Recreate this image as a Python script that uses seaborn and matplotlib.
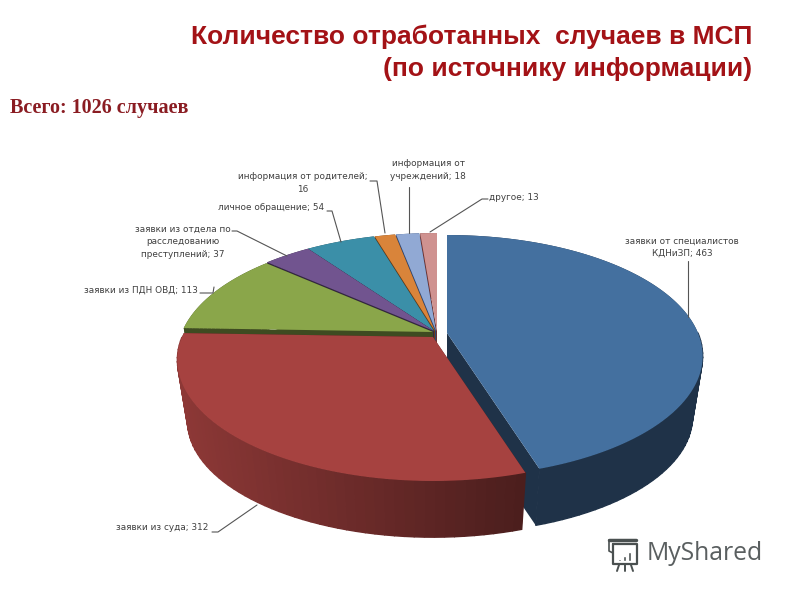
import colorsys

import numpy as np
import matplotlib
matplotlib.use("Agg")
import matplotlib.pyplot as plt
import seaborn as sns

# Data, clockwise from 12 o'clock
cases = [463, 312, 113, 37, 54, 16, 18, 13]
labels = [
    "заявки от специалистов\nКДНиЗП; 463",
    "заявки из суда; 312",
    "заявки из ПДН ОВД; 113",
    "заявки из отдела по\nрасследованию\nпреступлений; 37",
    "личное обращение; 54",
    "информация от родителей;\n16",
    "информация от\nучреждений; 18",
    "другое; 13",
]
colors = ["#44709f", "#a64240", "#8aa64a", "#71548f", "#3b8fa8", "#d9843a", "#91a9d4", "#cf9290"]

# Layout of the fake 3D pie, in pixels
apex = [(447, 333), (433, 337), (433, 332), (434, 331), (434, 331), (435, 331), (436, 331), (437, 331)]
draw_order = [7, 6, 5, 4, 3, 2, 0, 1]
RX, RY, PERSP = 251, 116.6, 0.19
DEPTH, SHRINK = 62, 0.96

label_pos = [(682, 247), (162, 528), (141, 290), (183, 242), (271, 208), (303, 183), (428, 170), (514, 198)]
leaders = [
    [(688, 261), (688, 317)],
    [(212, 532), (218, 532), (257, 505)],
    [(200, 293), (213, 293), (214, 287)],
    [(232, 231), (237, 231), (287, 256)],
    [(327, 211), (332, 211), (341, 242)],
    [(370, 181), (377, 181), (385, 233)],
    [(409, 187), (409, 233)],
    [(488, 199), (482, 199), (430, 232)],
]

sns.set_theme(style="white")
plt.rcParams["font.family"] = ["DejaVu Sans"]


def project(theta, r, center, lower=False):
    # theta runs clockwise from the top, r is 0..1 on the disc
    u, v = r * np.sin(theta), r * np.cos(theta)
    w = 1 + PERSP * v
    x, y = RX * u / w, -RY * v / w
    if lower:
        return center[0] + x * SHRINK, center[1] + y * SHRINK + DEPTH
    return center[0] + x, center[1] + y


def wall_color(color, x):
    # walls get darker towards the right
    _, l, _ = colorsys.rgb_to_hls(*matplotlib.colors.to_rgb(color))
    f = 0.85 - 0.4 * np.clip((x - 176) / 350, 0, 1)
    return sns.set_hls_values(color, l=l * f)


fig, ax = plt.subplots(figsize=(8, 6), dpi=100)
ax.set_xlim(0, 800)
ax.set_ylim(600, 0)
ax.axis("off")
fig.subplots_adjust(0, 0, 1, 1)

edges = np.cumsum([0] + cases) / sum(cases) * 2 * np.pi

for i in draw_order:
    start, end = edges[i], edges[i + 1]
    c = apex[i]
    col = colors[i]
    n = max(int((end - start) * 30), 3)
    th = np.linspace(start, end, n + 1)

    # cut faces first, then the outer wall in small strips for the shading
    for t in (start, end):
        xt, yt = project(t, 1, c)
        xb, yb = project(t, 1, c, lower=True)
        xa, ya = project(t, 0, c, lower=True)
        ax.fill([c[0], xt, xb, xa], [c[1], yt, yb, ya], color=wall_color(col, 600), lw=0, zorder=1)
    for a, b in zip(th[:-1], th[1:]):
        x1, y1 = project(a, 1, c)
        x2, y2 = project(b, 1, c)
        x3, y3 = project(b, 1, c, lower=True)
        x4, y4 = project(a, 1, c, lower=True)
        # back side of the rim only shows in the gaps, keep it dark
        back = np.cos((a + b) / 2) > 0
        shade_x = 600 if back else (x1 + x2) / 2
        ax.fill([x1, x2, x3, x4], [y1, y2, y3, y4], color=wall_color(col, shade_x), lw=0 if back else 1.0, zorder=1)

    fine = np.linspace(start, end, 120)
    tx, ty = project(fine, 1, c)
    ax.fill(np.r_[c[0], tx], np.r_[c[1], ty], color=col, lw=0, zorder=1)

for name, (x, y), pts in zip(labels, label_pos, leaders):
    ax.text(x, y, name, fontsize=6.4, color="#404040", ha="center", va="center", linespacing=1.45, zorder=5)
    xs, ys = zip(*pts)
    ax.plot(xs, ys, color="#555555", lw=0.8, zorder=4)

ax.text(752, 37, "Количество отработанных  случаев в МСП", fontsize=19, fontweight="bold",
        family="Liberation Sans", color="#a31216", ha="right", va="center")
ax.text(752, 69, "(по источнику информации)", fontsize=19, fontweight="bold",
        family="Liberation Sans", color="#a31216", ha="right", va="center")
ax.text(10, 108, "Всего: 1026 случаев", fontsize=14.5, fontweight="bold",
        family="Liberation Serif", color="#8a1c22", ha="left", va="center")

# MyShared watermark
ax.text(647, 553, "MyShared", fontsize=17.8, family="Open Sans", color="#5a5f60", ha="left", va="center")
ax.plot([613, 637, 637, 613, 613], [544, 544, 564, 564, 544], color="#4a5050", lw=1.6)
ax.plot([609, 636], [540, 540], color="#4a5050", lw=2.5)
ax.plot([609, 609, 613], [540, 551, 553], color="#4a5050", lw=1.2)
ax.bar([619, 624, 629], [-2, -5, -9], bottom=[561, 561, 561], width=3, color="#4a5050")
ax.plot([619, 617], [565, 571], color="#4a5050", lw=1.4)
ax.plot([625, 625], [565, 571], color="#4a5050", lw=1.4)
ax.plot([631, 633], [565, 571], color="#4a5050", lw=1.4)

fig.savefig("out.png", dpi=100)
